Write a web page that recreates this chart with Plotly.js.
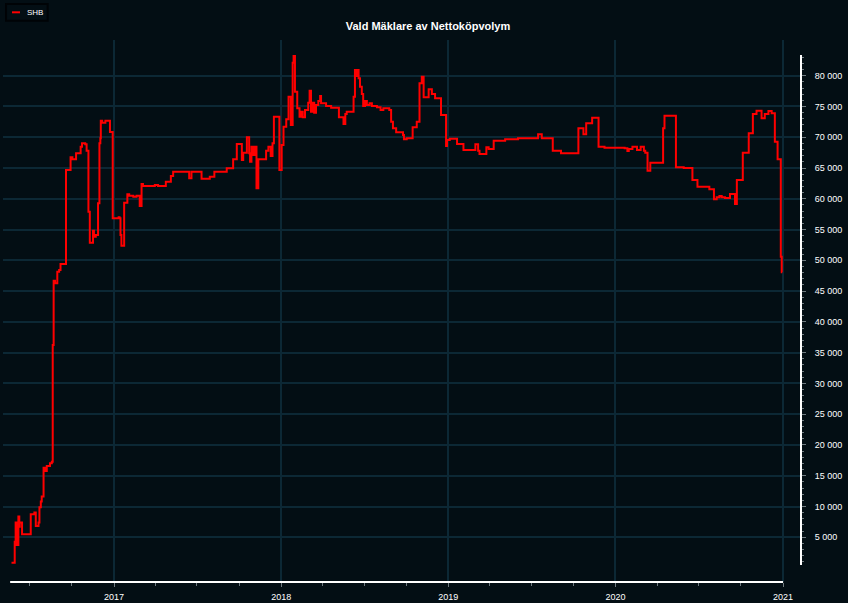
<!DOCTYPE html>
<html>
<head>
<meta charset="utf-8">
<script src="https://cdn.plot.ly/plotly-3.0.1.min.js"></script>
<style>
  html, body { margin: 0; padding: 0; background: #030e14; }
  #chart { width: 848px; height: 603px; }
</style>
</head>
<body>
<div id="chart"></div>
<script>
// ---- Data ----
const seriesName = "SHB";
const chartTitle = "Vald Mäklare av Nettoköpvolym";

const shbDates = [
  "2016-05-22","2016-05-29","2016-05-31","2016-06-02","2016-06-06","2016-06-08","2016-06-09","2016-06-14",
  "2016-07-03","2016-07-11","2016-07-14","2016-07-20","2016-07-22","2016-07-25","2016-07-27","2016-07-31",
  "2016-08-03","2016-08-07","2016-08-14","2016-08-18","2016-08-20","2016-08-22","2016-08-25","2016-08-30",
  "2016-09-03","2016-09-06","2016-09-18","2016-09-28","2016-10-02","2016-10-10","2016-10-20","2016-10-23",
  "2016-10-30","2016-11-02","2016-11-06","2016-11-09","2016-11-16","2016-11-18","2016-11-22","2016-11-27",
  "2016-11-30","2016-12-02","2016-12-03","2016-12-06","2016-12-13","2016-12-23","2016-12-29",
  "2017-01-11","2017-01-13","2017-01-15","2017-01-17","2017-01-23","2017-01-30","2017-02-03","2017-02-12",
  "2017-02-19","2017-02-26","2017-03-02","2017-03-05","2017-03-31","2017-04-07","2017-04-24","2017-05-05",
  "2017-05-10","2017-06-14","2017-06-19","2017-07-11","2017-07-29","2017-08-08","2017-09-04","2017-09-18",
  "2017-09-26","2017-10-07","2017-10-10","2017-10-18","2017-10-23","2017-10-25","2017-10-28","2017-11-01",
  "2017-11-05","2017-11-08","2017-11-12","2017-11-29","2017-12-04","2017-12-09","2017-12-13","2017-12-16",
  "2017-12-28",
  "2018-01-02","2018-01-06","2018-01-12","2018-01-17","2018-01-22","2018-01-26","2018-01-28","2018-01-31",
  "2018-02-05","2018-02-10","2018-02-13","2018-02-17","2018-02-22","2018-03-01","2018-03-04","2018-03-07",
  "2018-03-10","2018-03-14","2018-03-18","2018-03-23","2018-03-27","2018-03-29","2018-04-09","2018-04-20",
  "2018-05-07","2018-05-17","2018-05-21","2018-05-24","2018-06-08","2018-06-11","2018-06-15","2018-06-17",
  "2018-06-19","2018-06-22","2018-06-26","2018-06-29","2018-07-03","2018-07-07","2018-07-13","2018-07-18",
  "2018-07-29","2018-08-06","2018-08-12","2018-08-25","2018-08-29","2018-09-02","2018-09-09","2018-09-24",
  "2018-09-26","2018-10-02","2018-10-15","2018-10-24","2018-10-30","2018-11-04","2018-11-08","2018-11-19",
  "2018-11-26","2018-12-03","2018-12-16","2018-12-27","2018-12-29",
  "2019-01-04","2019-01-20","2019-02-03","2019-03-01","2019-03-07","2019-03-10","2019-03-25","2019-03-30",
  "2019-04-10","2019-05-05","2019-06-02","2019-07-16","2019-07-24","2019-08-17","2019-09-04","2019-10-12",
  "2019-10-23","2019-10-29","2019-11-11","2019-11-25","2019-12-08",
  "2020-01-21","2020-01-27","2020-01-30","2020-02-07","2020-02-17","2020-02-25","2020-03-03","2020-03-06",
  "2020-03-11","2020-03-17","2020-04-14","2020-04-17","2020-05-12","2020-05-29","2020-06-17","2020-06-28",
  "2020-07-24","2020-08-03","2020-08-09","2020-08-15","2020-08-20","2020-08-27","2020-09-07","2020-09-18",
  "2020-09-22","2020-10-05","2020-10-18","2020-10-27","2020-11-04","2020-11-15","2020-11-22","2020-11-30",
  "2020-12-07","2020-12-14","2020-12-20","2020-12-27","2020-12-29","2020-12-30"
];

const shbValues = [
  870,4290,7390,3750,8360,6700,7390,5490,
  8750,9010,6850,7390,9890,10800,11620,16320,
  15790,16600,17030,17290,36250,46690,46270,48150,
  48430,49410,64680,66740,66420,67390,68460,69020,
  68850,67810,57910,52870,54820,53840,54120,59270,
  69020,69830,72690,72360,72690,70850,56830,
  57000,56830,54120,52380,59370,60730,60500,60340,
  60500,58830,62400,62080,62240,62080,62780,63700,
  64400,63330,64400,63260,63590,64400,64960,66420,
  68900,66300,67490,69990,67390,66030,68460,67120,
  68460,61710,66420,67810,68460,66950,69020,73340,
  64680,
  68740,71710,72920,76590,71990,82110,83200,77400,
  74700,73340,74150,73240,74430,75610,77560,74150,
  75610,73990,75240,75890,76700,75520,75080,74800,
  73240,72150,73780,74150,76590,80930,79950,80930,
  79580,78210,77030,75080,75890,75240,75520,75080,
  74870,74430,74700,74430,72530,71450,70800,70370,
  69670,69830,71620,72530,78770,79840,76490,77790,
  77030,76330,73620,68580,69550,
  69770,68900,67930,68850,67810,67280,68370,68090,
  69440,69670,69830,70480,69830,67810,67390,71450,
  70480,72270,73180,68460,68300,
  68200,67760,68090,68460,67930,68460,67810,67490,
  64570,65870,71450,73500,65120,65000,63050,61970,
  61540,59920,60240,60450,60240,60130,60780,59160,
  63050,67490,70640,73780,74310,73080,73780,74260,
  73890,69280,66420,50600,48060,48060
];

const yMajorTicks = [5000,10000,15000,20000,25000,30000,35000,40000,45000,50000,55000,60000,65000,70000,75000,80000];
const xRange = ["2016-05-03 10:00", "2021-02-09 03:00"];
const yRange = [-2262, 85800];
const xAxisLineSpan = ["2016-05-19", "2021-01-01"];
const yAxisLineSpan = [500, 83360];

// minor y ticks every 1000 along the axis line
const yMinorTicks = [];
for (let v = 1000; v <= 83000; v += 1000) yMinorTicks.push(v);

const bg = "#030e14";
const gridCol = "#0c2835";
const tickCol = "#6f7a80";
const fontFam = "'Liberation Sans', Arial, Helvetica, sans-serif";

const trace = {
  type: "scatter",
  mode: "lines",
  name: seriesName,
  x: shbDates,
  y: shbValues,
  line: { color: "#ff0000", width: 2, shape: "hv" },
  showlegend: false,
  hoverinfo: "skip"
};

const layout = {
  width: 848,
  height: 603,
  paper_bgcolor: bg,
  plot_bgcolor: bg,
  margin: { l: 3, r: 47, t: 40, b: 21, pad: 0 },
  separators: ", ",
  font: { family: fontFam, color: "#ffffff", size: 9 },
  title: {
    text: "<b>" + chartTitle + "</b>",
    font: { family: fontFam, size: 11, color: "#ffffff" },
    xref: "container", x: 428 / 848, xanchor: "center",
    yref: "container", y: 1 - 26 / 603, yanchor: "middle"
  },
  showlegend: false,
  xaxis: {
    type: "date",
    range: xRange,
    tickmode: "linear",
    tick0: "2017-01-01",
    dtick: "M12",
    tickformat: "%Y",
    showgrid: true,
    gridcolor: gridCol,
    gridwidth: 2,
    zeroline: false,
    showline: false,
    ticks: "outside",
    ticklen: 4,
    tickwidth: 1,
    tickcolor: tickCol,
    ticklabelstandoff: 2,
    tickfont: { family: fontFam, size: 9, color: "#ffffff" },
    minor: {
      tick0: "2016-01-01",
      dtick: "M3",
      ticks: "outside",
      ticklen: 3,
      tickwidth: 1,
      tickcolor: tickCol,
      showgrid: false
    },
    fixedrange: true
  },
  yaxis: {
    side: "right",
    range: yRange,
    tickmode: "array",
    tickvals: yMajorTicks,
    tickformat: ",d",
    showgrid: true,
    gridcolor: gridCol,
    gridwidth: 2,
    zeroline: false,
    showline: false,
    ticks: "outside",
    ticklen: 4,
    tickwidth: 1,
    tickcolor: tickCol,
    ticklabelstandoff: 7,
    tickfont: { family: fontFam, size: 9, color: "#ffffff" },
    minor: {
      tickmode: "array",
      tickvals: yMinorTicks,
      ticks: "outside",
      ticklen: 2,
      tickwidth: 1,
      tickcolor: tickCol,
      showgrid: false
    },
    fixedrange: true
  },
  shapes: [
    // x axis line
    { type: "line", xref: "x", yref: "paper",
      x0: xAxisLineSpan[0], x1: xAxisLineSpan[1], y0: 0, y1: 0,
      line: { color: "#ffffff", width: 2 }, layer: "above" },
    // y axis line
    { type: "line", xref: "paper", yref: "y",
      x0: 1, x1: 1, y0: yAxisLineSpan[0], y1: yAxisLineSpan[1],
      line: { color: "#ffffff", width: 2 }, layer: "above" },
    // legend box
    { type: "rect", xref: "paper", yref: "paper",
      x0: 0.0038, x1: 0.0560, y0: 1.0356, y1: 1.0664,
      line: { color: "#000306", width: 2 }, fillcolor: bg, layer: "above" },
    // legend line sample
    { type: "line", xref: "paper", yref: "paper",
      x0: 0.0113, x1: 0.0213, y0: 1.0511, y1: 1.0511,
      line: { color: "#ff0000", width: 2 }, layer: "above" }
  ],
  annotations: [
    { xref: "paper", yref: "paper", x: 0.0276, y: 1.0511,
      xanchor: "left", yanchor: "middle", showarrow: false,
      text: seriesName, font: { family: fontFam, size: 8, color: "#ffffff" } }
  ]
};

Plotly.newPlot("chart", [trace], layout, { displayModeBar: false, staticPlot: true });
</script>
</body>
</html>
